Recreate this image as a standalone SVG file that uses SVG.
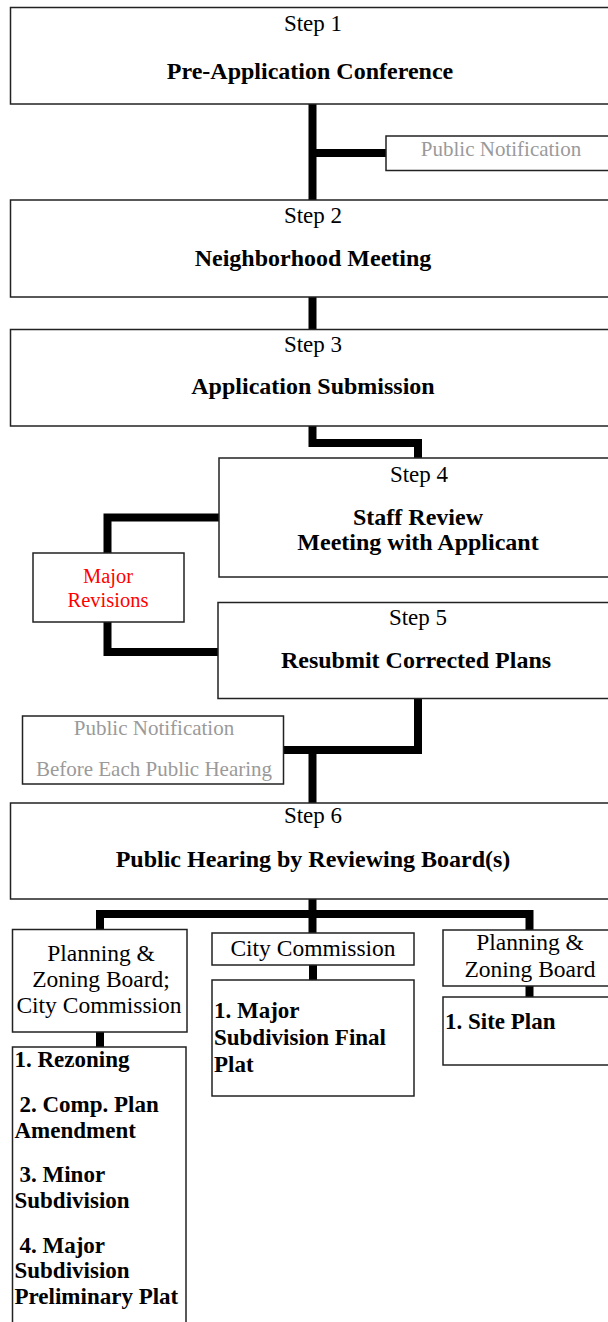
<svg xmlns="http://www.w3.org/2000/svg" width="608" height="1322" viewBox="0 0 608 1322" font-family="'Liberation Serif', 'Times New Roman', Tinos, 'DejaVu Serif', serif">
<style>
.box{fill:#fff;stroke:#222;stroke-width:1.5}
.con{fill:none;stroke:#000;stroke-width:8;stroke-linejoin:miter}
text{fill:#000}
.step{font-size:23px;text-anchor:middle}
.title{font-size:24px;font-weight:bold;text-anchor:middle}
.gray{font-size:21px;fill:#9a9a9a;text-anchor:middle}
.red{font-size:20.5px;fill:#ff0000;text-anchor:middle}
.board{font-size:23.5px;text-anchor:middle}
.item{font-size:23px;font-weight:bold}
</style>
<rect width="608" height="1322" fill="#fff"/>
<g id="connectors">
<path class="con" d="M312.5,104 V200"/>
<path class="con" d="M312.5,153 H386"/>
<path class="con" d="M312.5,297 V329"/>
<path class="con" d="M312.5,426 V443 H418 V458"/>
<path class="con" d="M219,517.5 H107.5 V553"/>
<path class="con" d="M107.5,622 V652 H218"/>
<path class="con" d="M418,699 V750 H283.5"/>
<path class="con" d="M312.5,750 V803"/>
<path class="con" d="M312.5,899 V933"/>
<path class="con" d="M100,929 V914 H529.5 V930"/>
<path class="con" d="M100,1032 V1047"/>
<path class="con" d="M313,965 V980"/>
<path class="con" d="M529.5,986 V997"/>
</g>
<g id="step1">
<rect class="box" x="10.5" y="7.5" width="610" height="96.5"/>
<text class="step" x="313" y="31">Step 1</text>
<text class="title" x="310" y="79">Pre-Application Conference</text>
</g>
<g id="notify1">
<rect class="box" x="386" y="136" width="234" height="34.5"/>
<text class="gray" x="501" y="156">Public Notification</text>
</g>
<g id="step2">
<rect class="box" x="10.5" y="200" width="610" height="97"/>
<text class="step" x="313" y="223">Step 2</text>
<text class="title" x="313" y="266">Neighborhood Meeting</text>
</g>
<g id="step3">
<rect class="box" x="10.5" y="329.5" width="610" height="96.5"/>
<text class="step" x="313" y="352">Step 3</text>
<text class="title" x="313" y="394">Application Submission</text>
</g>
<g id="step4">
<rect class="box" x="219" y="458" width="400" height="119"/>
<text class="step" x="419" y="482">Step 4</text>
<text class="title" x="418" y="525">Staff Review</text>
<text class="title" x="418" y="550">Meeting with Applicant</text>
</g>
<g id="major-revisions">
<rect class="box" x="33" y="553" width="151" height="69"/>
<text class="red" x="108" y="583">Major</text>
<text class="red" x="108" y="607">Revisions</text>
</g>
<g id="step5">
<rect class="box" x="218" y="602.5" width="401" height="96"/>
<text class="step" x="418" y="625">Step 5</text>
<text class="title" x="416" y="668">Resubmit Corrected Plans</text>
</g>
<g id="notify2">
<rect class="box" x="22.5" y="716" width="261" height="68"/>
<text class="gray" x="154" y="735">Public Notification</text>
<text class="gray" x="154" y="776">Before Each Public Hearing</text>
</g>
<g id="step6">
<rect class="box" x="10.5" y="803" width="610" height="96"/>
<text class="step" x="313" y="823">Step 6</text>
<text class="title" x="313" y="867">Public Hearing by Reviewing Board(s)</text>
</g>
<g id="board-pz-cc">
<rect class="box" x="12.5" y="929.5" width="174.5" height="102.5"/>
<text class="board" x="101" y="961">Planning &amp;</text>
<text class="board" x="101" y="987">Zoning Board;</text>
<text class="board" x="99" y="1013">City Commission</text>
</g>
<g id="items-pz-cc">
<rect class="box" x="12.5" y="1047" width="173.5" height="290"/>
<text class="item" x="14.5" y="1067">1. Rezoning</text>
<text class="item" x="19.5" y="1112">2. Comp. Plan</text>
<text class="item" x="14.5" y="1138">Amendment</text>
<text class="item" x="19.5" y="1182">3. Minor</text>
<text class="item" x="14.5" y="1208">Subdivision</text>
<text class="item" x="19.5" y="1253">4. Major</text>
<text class="item" x="14.5" y="1278">Subdivision</text>
<text class="item" x="14.5" y="1304">Preliminary Plat</text>
</g>
<g id="board-cc">
<rect class="box" x="212" y="933" width="202" height="32"/>
<text class="board" x="313" y="956">City Commission</text>
</g>
<g id="items-cc">
<rect class="box" x="212" y="980" width="202" height="116"/>
<text class="item" x="214" y="1018">1. Major</text>
<text class="item" x="214" y="1045">Subdivision Final</text>
<text class="item" x="214" y="1072">Plat</text>
</g>
<g id="board-pz">
<rect class="box" x="443" y="930" width="177" height="56"/>
<text class="board" x="530" y="950">Planning &amp;</text>
<text class="board" x="530" y="977">Zoning Board</text>
</g>
<g id="items-pz">
<rect class="box" x="443" y="997" width="177" height="68"/>
<text class="item" x="445" y="1029">1. Site Plan</text>
</g>
</svg>
